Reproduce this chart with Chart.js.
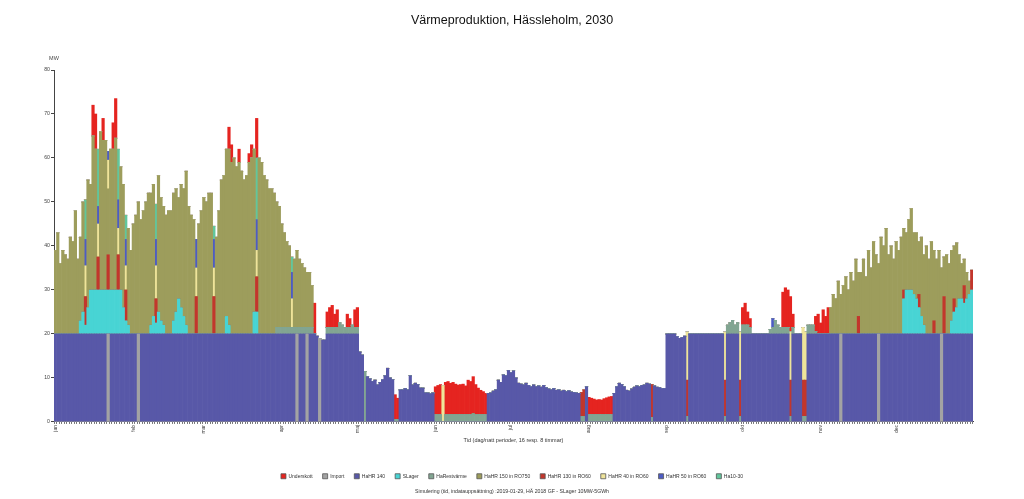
<!DOCTYPE html>
<html>
<head>
<meta charset="utf-8">
<title>Värmeproduktion, Hässleholm, 2030</title>
<script src="https://cdn.jsdelivr.net/npm/chart.js@4.4.1/dist/chart.umd.min.js"></script>
<style>
  html, body { margin: 0; padding: 0; background: #fff; }
  #wrap { width: 1024px; height: 499px; }
</style>
</head>
<body>
<div id="wrap"><canvas id="chart" width="1024" height="499"></canvas></div>
<script>
// Texter
const chartTitle = 'Värmeproduktion, Hässleholm, 2030';
const xTitle = 'Tid (dag/natt perioder, 16 resp. 8 timmar)';
const yUnit = 'MW';
const footerText = 'Simulering (tid, indatauppsättning) :2019-01-29, HÄ 2018 GF - SLager 10MW-5GWh';

// Axlar
const DAYS = 365;
const monthLabels = ['jan', 'feb', 'mar', 'apr', 'maj', 'jun', 'jul', 'aug', 'sep', 'okt', 'nov', 'dec'];
const monthStarts = [0, 31, 59, 90, 120, 151, 181, 212, 243, 273, 304, 334];
const yTicks = [0, 10, 20, 30, 40, 50, 60, 70, 80];

// HaHR 140 (basproduktion), ett värde per dygn
const hr140 = [
  20,20,20,20,20,20,20,20,20,20,   // 0
  20,20,20,20,20,20,20,20,20,20,   // 10
  20,0,20,20,20,20,20,20,20,20,    // 20
  20,20,20,0,20,20,20,20,20,20,    // 30
  20,20,20,20,20,20,20,20,20,20,   // 40
  20,20,20,20,20,20,20,20,20,20,   // 50
  20,20,20,20,20,20,20,20,20,20,   // 60
  20,20,20,20,20,20,20,20,20,20,   // 70
  20,20,20,20,20,20,20,20,20,20,   // 80
  20,20,20,20,20,20,0,20,20,20,    // 90
  0,20,20,20,19.5,0,18.6,18.6,20,20, // 100
  20,20,20,20,20,20,20,20,20,20,   // 110
  20,15.9,15.2,0,10.3,9.8,9.2,9.5,8.4,9.0, // 120
  9.6,10.5,12.2,10,9.6,0,0,7.3,7.3,7.6,    // 130
  7.3,10.5,8.4,8.8,8.5,7.7,7.7,6.6,6.6,6.4, // 140
  6.6,0,0,0,0,0,0,0,0,0,           // 150
  0,0,0,0,0,0,0,0,0,0,             // 160
  0,0,6.5,6.6,7.0,7.3,9.5,9.0,10.7,10.5,   // 170
  11.7,11.2,11.6,10.0,8.8,8.6,8.4,8.8,8.3,8.0, // 180
  8.4,8.0,8.2,7.9,8.3,7.8,7.5,7.3,7.6,7.2, // 190
  7.3,7.0,7.2,6.9,7.1,6.8,6.7,6.6,6.5,0,   // 200
  0,8.0,0,0,0,0,0,0,0,0,           // 210
  0,0,6.5,8.0,8.8,8.5,8.0,7.2,7.0,7.5,     // 220
  7.9,8.2,8.0,8.3,8.4,8.8,8.6,0,8.2,7.9,   // 230
  7.8,7.6,7.6,20,20,20,20,19.4,19.0,19.2,  // 240
  19.5,0,20,20,20,20,20,20,20,20,  // 250
  20,20,20,20,20,20,0,20,20,20,    // 260
  20,20,0,20,20,20,20,20,20,20,    // 270
  20,20,20,20,20,20,20,20,20,20,   // 280
  20,20,0,20,20,20,20,0,0,20,      // 290
  20,20,20,20,20,20,20,20,20,20,   // 300
  20,20,0,20,20,20,20,20,20,20,    // 310
  20,20,20,20,20,20,20,0,20,20,    // 320
  20,20,20,20,20,20,20,20,20,20,   // 330
  20,20,20,20,20,20,20,20,20,20,   // 340
  20,20,0,20,20,20,20,20,20,20,    // 350
  20,20,20,20,20                   // 360
];

// HaHR 150 in RO750, vinter (från dag 0) och senhöst (från dag 308)
const hr150Winter = [
  19,23,16,19,18,17,22,21,28,17,
  19,25,0,29,24,35,32,0,36,34,
  34,15,32,32,34.5,0,28,28,0,22,
  19,25,27,30,26,28,30,32,30,30,
  0,31,28,27,27,28,28,29,28,23,
  28,29,35,29,27,26,0,25,28,31,
  30,32,32,0,22,28,35,36,38,40,
  39,40,38,39,37,35,36,39,40,37,
  0,40,39,36,35,33,33,32,28.5,27.5,
  23.5,21.5,19.5,18.5,0,15.5,17.5,15.5,14.5,13.5,
  12.5,12.5,9.5
];
const hr150LateStart = 308;
const hr150Late = [
  6,9,
  8,12,9,11,13,10,14,12,17,10,
  14,17,13,19,15,21,18,16,22,20,
  24,18,20,17,21,19,22,14,13,16,
  18.5,14,15,12,18,16,20,17,21,16,
  17,19,15,9,18,16,16,12,14.7,10,
  8,6,6,3,0
];

// Glesa serier: dag -> MW
const slagerDays = {
  10:3, 11:5, 12:2, 13:6, 14:10, 15:10, 16:10, 17:10, 18:10, 19:10, 20:10, 21:10,
  22:10, 23:10, 24:10, 25:10, 26:10, 27:6, 28:3, 29:2,
  38:2, 39:4, 40:2.5, 41:5, 42:3, 43:2, 47:3, 48:5, 49:8, 50:6, 51:4, 52:2,
  68:4, 69:2, 79:5, 80:5,
  337:8, 338:10, 339:10, 340:10, 341:9, 342:8, 343:6, 344:4, 345:2,
  356:3, 357:5, 358:6, 359:8, 360:8, 361:7, 362:8, 363:9, 364:10
};
const restvarmeDays = {
  88:1.5, 89:1.5, 90:1.5, 91:1.5, 92:1.5, 93:1.5, 94:1.5, 95:1.5, 96:1.5, 97:1.5,
  98:1.5, 99:1.5, 100:1.5, 101:1.5, 102:1.5,
  108:1.5, 109:1.5, 110:1.5, 111:1.5, 112:1.5, 113:2.5, 114:2, 115:1.5, 116:1.5,
  117:1.5, 118:2, 119:1.5, 120:1.5, 123:11.5, 135:0.5, 136:0.5,
  151:1.6, 152:1.6, 153:1.6, 155:1.6, 156:1.6, 157:1.6, 158:1.6, 159:1.6, 160:1.6,
  161:1.6, 162:1.6, 163:1.6, 164:1.6, 165:1.6, 166:1.6, 167:1.6, 168:1.6, 169:1.6,
  170:1.6, 171:1.6, 209:1.2, 210:1.2,
  212:1.6, 213:1.6, 214:1.6, 215:1.6, 216:1.6, 217:1.6, 218:1.6, 219:1.6, 220:1.6, 221:1.6,
  237:1, 251:1.2, 266:1.2, 267:2, 268:2.5, 269:3, 270:2, 271:2.5, 272:1.2,
  273:2, 274:2, 275:2, 276:1.5, 284:1, 285:1.5, 286:3, 287:2, 288:1.5,
  289:1.5, 290:1.5, 291:1.5, 292:1.2, 293:1.5, 297:1.2, 298:1.2, 299:2, 300:2, 301:2, 302:0.5
};
const underskottDays = {
  15:7, 16:8, 19:5, 23:6, 24:9, 69:5, 70:4, 73:3, 77:2, 78:3, 80:9,
  103:7, 108:3.5, 109:4.5, 110:5, 111:3, 112:4, 116:3, 117:2, 119:4, 120:4.5,
  135:5.7, 136:4.9,
  151:6.4, 152:6.7, 153:6.9, 155:7.4, 156:7.6, 157:7.2, 158:7.4, 159:7.0, 160:6.8,
  161:6.9, 162:7.0, 163:6.6, 164:7.9, 165:7.6, 166:8.4, 167:6.9, 168:6.1, 169:5.6,
  170:5.3, 171:4.9,
  212:4.0, 213:3.8, 214:3.6, 215:3.4, 216:3.5, 217:3.4, 218:3.7, 219:3.9, 220:4.1, 221:4.2,
  273:4, 274:5, 275:3, 276:2, 289:8, 290:9, 291:8.5, 292:8, 293:3,
  302:3.5, 303:4.5, 304:2.5, 305:5.5, 306:4, 307:6
};
const importDays = { 21:20, 33:20, 96:20, 100:20, 105:19, 312:20, 327:20, 352:20 };
const hr130Days = {
  12:6.5, 17:7.5, 21:8, 25:8, 28:7, 40:5.5, 56:8.5, 63:8.5, 80:8,
  209:5.5, 210:6.1, 237:7.5, 251:8.3, 266:8.3, 272:8.3, 292:8.3, 297:8.3, 298:8.3,
  319:4, 337:2, 343:3, 349:3, 353:8.5, 357:3, 361:4, 364:4.5
};
const hr40Days = {
  12:7, 17:7.5, 21:6.5, 25:6, 28:5.5, 40:7.5, 56:6.5, 63:6.5, 80:6, 94:6.5,
  154:8.3, 251:11, 266:11, 272:11, 292:11, 297:12, 298:11
};
const hr50Days = { 12:6, 17:4, 21:2, 25:6.5, 28:6, 40:6, 56:6.5, 63:6.5, 80:7, 94:6, 285:2 };
const ha1030Days = { 12:9, 17:13, 25:11.5, 28:5.5, 40:8, 63:3, 80:14, 94:3.5, 166:0.3 };

// Legendordning som i originalet
const legendOrder = ['Underskott', 'Import', 'HaHR 140', 'SLager', 'HaRestvärme',
  'HaHR 150 in RO750', 'HaHR 130 in RO60', 'HaHR 40 in RO60', 'HaHR 50 in RO60', 'Ha10-30'];

// Hjälpfunktioner
function fromDays(points) {
  const arr = new Array(DAYS).fill(0);
  Object.keys(points).forEach(k => { arr[Number(k)] = points[k]; });
  return arr;
}

function buildHr150() {
  const arr = new Array(DAYS).fill(0);
  hr150Winter.forEach((v, i) => { arr[i] = v; });
  hr150Late.forEach((v, i) => { arr[hr150LateStart + i] = v; });
  return arr;
}

const labels = Array.from({ length: DAYS }, (_, i) => i);

function bar(label, data, color) {
  return {
    label: label,
    data: data,
    backgroundColor: color,
    borderWidth: 0,
    barPercentage: 1,
    categoryPercentage: 1,
    stack: 'prod'
  };
}

// Staplingsordning nerifrån och upp
const datasets = [
  bar('Import', fromDays(importDays), '#a3a3a3'),
  bar('HaHR 140', hr140, '#5858a8'),
  bar('HaRestvärme', fromDays(restvarmeDays), '#82a592'),
  bar('SLager', fromDays(slagerDays), '#48d4d4'),
  bar('HaHR 130 in RO60', fromDays(hr130Days), '#c2362c'),
  bar('HaHR 150 in RO750', buildHr150(), '#9d9d5c'),
  bar('HaHR 40 in RO60', fromDays(hr40Days), '#efe49a'),
  bar('HaHR 50 in RO60', fromDays(hr50Days), '#4d5cc4'),
  bar('Ha10-30', fromDays(ha1030Days), '#62c69c'),
  bar('Underskott', fromDays(underskottDays), '#e52420')
];

// "MW" ovanför y-axeln
const unitLabel = {
  id: 'unitLabel',
  afterDraw(chart) {
    const ctx = chart.ctx;
    const area = chart.chartArea;
    ctx.save();
    ctx.font = '5.5px "Liberation Sans", Arial, sans-serif';
    ctx.fillStyle = '#444';
    ctx.textAlign = 'center';
    ctx.textBaseline = 'middle';
    ctx.fillText(yUnit, area.left, area.top - 12);
    ctx.restore();
  }
};

Chart.defaults.font.family = '"Liberation Sans", Arial, sans-serif';

new Chart(document.getElementById('chart'), {
  type: 'bar',
  data: { labels: labels, datasets: datasets },
  plugins: [unitLabel],
  options: {
    responsive: false,
    animation: false,
    layout: { padding: 0 },
    plugins: {
      title: {
        display: true,
        text: chartTitle,
        color: '#111',
        font: { size: 12.5, weight: 'normal' },
        padding: { top: 13, bottom: 42 }
      },
      subtitle: {
        display: true,
        position: 'bottom',
        text: footerText,
        color: '#333',
        font: { size: 5.2, weight: 'normal' },
        padding: { top: 0, bottom: 4 }
      },
      legend: {
        position: 'bottom',
        labels: {
          boxWidth: 5,
          boxHeight: 5,
          padding: 10,
          color: '#333',
          font: { size: 5 },
          generateLabels(chart) {
            const items = Chart.defaults.plugins.legend.labels.generateLabels(chart);
            items.forEach(it => { it.lineWidth = 0.8; it.strokeStyle = '#555'; });
            return items;
          },
          sort: (a, b) => legendOrder.indexOf(a.text) - legendOrder.indexOf(b.text)
        }
      },
      tooltip: { enabled: false }
    },
    scales: {
      x: {
        stacked: true,
        afterFit(scale) { scale.height = 41.8; },
        grid: { display: true, drawOnChartArea: false, tickLength: 2, color: '#777' },
        border: { display: true, color: '#444' },
        ticks: {
          autoSkip: false,
          minRotation: 90,
          maxRotation: 90,
          padding: 1,
          color: '#444',
          font: { size: 5 },
          callback(value, index) {
            const m = monthStarts.indexOf(index);
            return m >= 0 ? monthLabels[m] : '';
          }
        },
        title: {
          display: true,
          text: xTitle,
          color: '#333',
          font: { size: 5.5 },
          padding: { top: 0, bottom: 19.5 }
        }
      },
      y: {
        stacked: true,
        min: yTicks[0],
        max: yTicks[yTicks.length - 1],
        afterFit(scale) { scale.width = 54; },
        afterBuildTicks(scale) { scale.ticks = yTicks.map(v => ({ value: v })); },
        grid: { display: true, drawOnChartArea: false, tickLength: 3, color: '#444' },
        border: { display: true, color: '#444' },
        ticks: { color: '#444', padding: 1, font: { size: 5.2 } }
      },
      yRight: {
        position: 'right',
        display: true,
        afterFit(scale) { scale.width = 51; },
        grid: { display: false },
        border: { display: false },
        ticks: { display: false }
      }
    }
  }
});
</script>
</body>
</html>
